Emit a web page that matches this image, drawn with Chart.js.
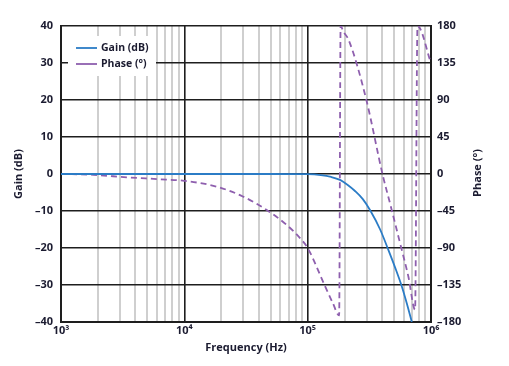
<!DOCTYPE html>
<html>
<head>
<meta charset="utf-8">
<script src="https://cdn.jsdelivr.net/npm/chart.js@4.4.0/dist/chart.umd.min.js"></script>
<style>
  html, body { margin: 0; padding: 0; background: #fff; }
  #wrap { width: 509px; height: 366px; }
</style>
</head>
<body>
<div id="wrap"><canvas id="bodeChart"></canvas></div>
<script>
// values
const gainFreq = [1e3, 1e4, 5e4, 1e5, 1.28e5, 1.55e5, 1.83e5, 2.1e5, 2.42e5, 2.8e5, 3.21e5, 3.87e5, 4.51e5, 5.12e5, 5.8e5, 6.37e5, 6.99e5];
const gainDb = [0, 0, 0, -0.05, -0.3, -0.8, -1.6, -2.9, -4.6, -6.8, -9.8, -15, -20.5, -25.3, -30.4, -35, -40];

const phaseFreq = [1e3, 1.83e3, 3.41e3, 6.35e3, 1e4, 1.83e4, 3.01e4, 4.66e4, 6.76e4, 8.67e4, 1e5, 1.37e5, 1.6e5, 1.8e5, 1.85e5, 1.95e5, 2.15e5, 2.97e5, 4.07e5, 4.66e5, 5.61e5, 6.56e5, 7.43e5, 7.77e5, 1e6];
const phaseDeg = [0, -1, -4, -6.4, -8.3, -15.4, -27.6, -43.8, -62, -78, -90, -135, -157, -172, 180, 173, 163, 92, -2, -36, -84, -125, -165, 180, 135];

const decades = [1e3, 1e4, 1e5, 1e6];
const decadeLabels = ["10\u00b3", "10\u2074", "10\u2075", "10\u2076"];
const gainTicks = [-40, -30, -20, -10, 0, 10, 20, 30, 40];
const phaseTicks = [-180, -135, -90, -45, 0, 45, 90, 135, 180];

const ink = "#1b1b30";
const font = { family: "'Open Sans', sans-serif", weight: "bold", size: 11 };

function minus(v) {
  return String(v).replace("-", "\u2013");
}

// draws axis titles and the legend box inside the plot
const decorations = {
  id: "decorations",
  afterDraw(chart) {
    const c = chart.ctx;
    c.save();
    c.fillStyle = ink;
    c.font = "bold 11px 'Open Sans', sans-serif";
    c.textAlign = "center";
    c.textBaseline = "middle";
    c.fillText("Frequency (Hz)", 246, 348);
    c.save();
    c.translate(19, 174);
    c.rotate(-Math.PI / 2);
    c.fillText("Gain (dB)", 0, 0);
    c.restore();
    c.save();
    c.translate(478, 173);
    c.rotate(-Math.PI / 2);
    c.fillText("Phase (\u00b0)", 0, 0);
    c.restore();

    // legend
    c.fillStyle = "#fff";
    c.fillRect(68, 36, 88, 40);
    const items = [["Gain (dB)", "#2b7cc6", 48], ["Phase (\u00b0)", "#8e5fae", 64]];
    c.font = "bold 10.5px 'Open Sans', sans-serif";
    c.textAlign = "left";
    items.forEach(([label, color, y]) => {
      c.strokeStyle = color;
      c.lineWidth = 1.8;
      c.beginPath();
      c.moveTo(76, y);
      c.lineTo(97, y);
      c.stroke();
      c.fillStyle = ink;
      c.fillText(label, 101, y);
    });
    c.restore();
  }
};

const xTicks = [];
decades.slice(0, 3).forEach(d => {
  for (let m = 1; m <= 9; m++) xTicks.push(m * d);
});
xTicks.push(1e6);

new Chart(document.getElementById("bodeChart"), {
  type: "line",
  data: {
    datasets: [
      {
        label: "Gain (dB)",
        data: gainFreq.map((f, i) => ({ x: f, y: gainDb[i] })),
        yAxisID: "y",
        borderColor: "#2b7cc6",
        borderWidth: 1.8,
        pointRadius: 0,
        cubicInterpolationMode: "monotone"
      },
      {
        label: "Phase (\u00b0)",
        data: phaseFreq.map((f, i) => ({ x: f, y: phaseDeg[i] })),
        yAxisID: "y2",
        borderColor: "#8e5fae",
        borderWidth: 1.8,
        borderDash: [6, 4],
        pointRadius: 0,
        cubicInterpolationMode: "monotone"
      }
    ]
  },
  options: {
    responsive: true,
    maintainAspectRatio: false,
    animation: false,
    layout: { padding: { top: 26, left: 0, right: 0, bottom: 0 } },
    plugins: {
      legend: { display: false },
      tooltip: { enabled: false }
    },
    scales: {
      x: {
        type: "logarithmic",
        min: 1e3,
        max: 1e6,
        afterBuildTicks: s => { s.ticks = xTicks.map(v => ({ value: v })); },
        afterFit: s => { s.height = 44; },
        ticks: {
          autoSkip: false,
          maxRotation: 0,
          padding: 2,
          color: ink,
          font: font,
          callback: v => {
            const i = decades.indexOf(v);
            return i >= 0 ? decadeLabels[i] : "";
          }
        },
        grid: {
          drawTicks: false,
          color: ctx => decades.includes(ctx.tick.value) ? "#1e1e1e" : "#cfcfcf",
          lineWidth: ctx => decades.includes(ctx.tick.value) ? 1.6 : 2
        },
        border: { color: "#1e1e1e", width: 2 }
      },
      y: {
        position: "left",
        min: -40,
        max: 40,
        afterBuildTicks: s => { s.ticks = gainTicks.map(v => ({ value: v })); },
        afterFit: s => { s.width = 61; },
        ticks: { padding: 8, color: ink, font: font, callback: v => minus(v) },
        grid: { drawTicks: false, color: "#1e1e1e", lineWidth: 1.6 },
        border: { color: "#1e1e1e", width: 2 }
      },
      y2: {
        position: "right",
        min: -180,
        max: 180,
        afterBuildTicks: s => { s.ticks = phaseTicks.map(v => ({ value: v })); },
        afterFit: s => { s.width = 78; },
        ticks: { padding: 6, color: ink, font: font, callback: v => minus(v) },
        grid: { drawTicks: false, drawOnChartArea: false },
        border: { color: "#1e1e1e", width: 2 }
      }
    }
  },
  plugins: [decorations]
});
</script>
</body>
</html>
